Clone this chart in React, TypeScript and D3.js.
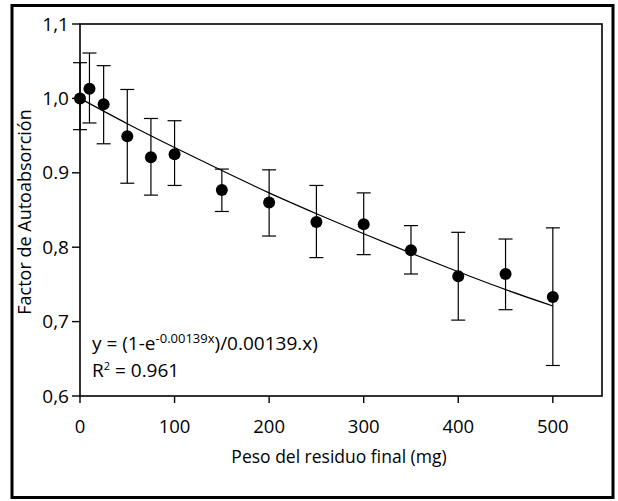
import React from "react";
import * as d3 from "d3";

const pesos = [0, 10, 25, 50, 75, 100, 150, 200, 250, 300, 350, 400, 450, 500];
const factor = [1.0, 1.013, 0.992, 0.949, 0.921, 0.925, 0.877, 0.86, 0.834, 0.831, 0.796, 0.761, 0.764, 0.733];
const errTop = [1.048, 1.061, 1.044, 1.012, 0.973, 0.97, 0.905, 0.904, 0.883, 0.873, 0.829, 0.82, 0.811, 0.826];
const errBottom = [0.958, 0.967, 0.939, 0.886, 0.87, 0.883, 0.848, 0.815, 0.786, 0.79, 0.764, 0.702, 0.716, 0.641];

// fitted curve y = (1-e^-kx)/kx
const fitX = [0, 50, 100, 150, 200, 250, 300, 350, 400, 450, 500];
const fitY = [1.0, 0.966, 0.934, 0.903, 0.873, 0.845, 0.818, 0.792, 0.767, 0.743, 0.721];

const xTicks = [0, 100, 200, 300, 400, 500];
const yTicks = [0.6, 0.7, 0.8, 0.9, 1.0, 1.1];
const yTickLabels = ["0,6", "0,7", "0,8", "0.9", "1,0", "1,1"];

const W = 618;
const H = 501;
const font = "'Open Sans', 'DejaVu Sans', sans-serif";

export default function App() {
  const margin = { left: 80, right: 16, top: 24, bottom: 105 };
  const x = d3.scaleLinear().domain([0, 552]).range([margin.left, W - margin.right]);
  const y = d3.scaleLinear().domain([0.6, 1.1]).range([H - margin.bottom, margin.top]);

  const fitLine = d3
    .line<number>()
    .x((d, i) => x(fitX[i]))
    .y((d) => y(d))
    .curve(d3.curveMonotoneX);

  const x0 = x.range()[0];
  const x1 = x.range()[1];
  const yb = y.range()[0];
  const yt = y.range()[1];
  const cap = 7;

  return (
    <svg
      width={W}
      height={H}
      style={{ position: "absolute", left: 0, top: 0, background: "#fff" }}
      fontFamily={font}
    >
      {/* outer frame */}
      <rect x={12} y={5.5} width={601} height={492} fill="none" stroke="#000" strokeWidth={3} />

      {/* plot frame */}
      <rect x={x0} y={yt} width={x1 - x0} height={yb - yt} fill="none" stroke="#000" strokeWidth={1.6} />

      {/* y ticks */}
      {yTicks.map((t, i) => (
        <g key={"y" + t}>
          <line x1={x0 - 8} x2={x0} y1={y(t)} y2={y(t)} stroke="#000" strokeWidth={1.4} />
          <text x={x0 - 11} y={y(t)} dy="0.35em" textAnchor="end" fontSize={19} fill="#000">
            {yTickLabels[i]}
          </text>
        </g>
      ))}

      {/* x ticks */}
      {xTicks.map((t) => (
        <g key={"x" + t}>
          <line x1={x(t)} x2={x(t)} y1={yb} y2={yb + 7} stroke="#000" strokeWidth={1.4} />
          <text x={x(t)} y={yb + 37} textAnchor="middle" fontSize={18.5} fill="#000">
            {t}
          </text>
        </g>
      ))}

      {/* axis titles */}
      <text x={(x0 + x1) / 2 - 2} y={yb + 67} textAnchor="middle" fontSize={17.5} fill="#000">
        Peso del residuo final (mg)
      </text>
      <text
        transform={`translate(31,${(yt + yb) / 2 + 2}) rotate(-90)`}
        textAnchor="middle"
        fontSize={18}
        fill="#000"
      >
        Factor de Autoabsorción
      </text>

      {/* fitted curve */}
      <path d={fitLine(fitY) || ""} fill="none" stroke="#000" strokeWidth={1.2} />

      {/* error bars */}
      {pesos.map((p, i) => (
        <g key={"e" + p} stroke="#000" strokeWidth={1.2}>
          <line x1={x(p)} x2={x(p)} y1={y(errTop[i])} y2={y(errBottom[i])} />
          <line x1={x(p) - cap} x2={x(p) + cap} y1={y(errTop[i])} y2={y(errTop[i])} />
          <line x1={x(p) - cap} x2={x(p) + cap} y1={y(errBottom[i])} y2={y(errBottom[i])} />
        </g>
      ))}

      {/* points */}
      {pesos.map((p, i) => (
        <circle key={"c" + p} cx={x(p)} cy={y(factor[i])} r={6} fill="#000" />
      ))}

      {/* equation */}
      <text x={92} y={350} fontSize={19} fill="#000">
        y = (1-e
        <tspan dy={-7} fontSize={13}>-0.00139x</tspan>
        <tspan dy={7}>)/0.00139.x)</tspan>
      </text>
      <text x={92} y={377} fontSize={19} fill="#000">
        R<tspan dy={-7} fontSize={11}>2</tspan>
        <tspan dy={7}> = 0.961</tspan>
      </text>
    </svg>
  );
}
